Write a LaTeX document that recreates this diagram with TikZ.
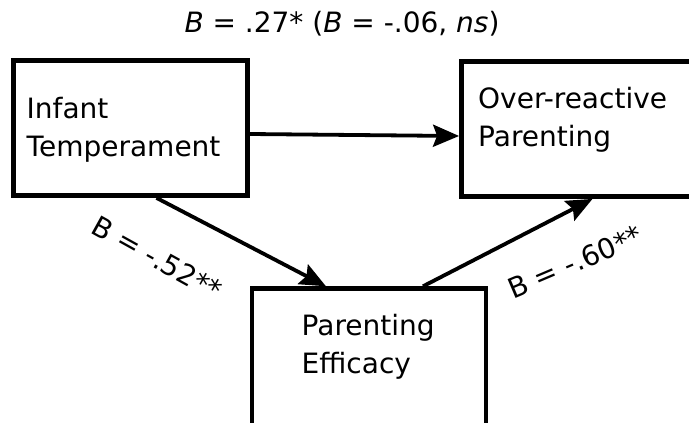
\documentclass[tikz,border=0pt]{standalone}
\usepackage{fontspec}
\setmainfont{DejaVu Sans}
\usetikzlibrary{arrows.meta}

\begin{document}
\begin{tikzpicture}[x=1pt,y=-1pt,
	box/.style={draw,line width=4.8pt,minimum width=234pt,minimum height=135pt,inner sep=0pt},
	boxtext/.style={anchor=base west,align=left,inner sep=0pt,font=\fontsize{28}{38}\selectfont},
	effect/.style={line width=3.8pt,-{Stealth[length=26pt,width=22pt,inset=4pt]}},
	coef/.style={inner sep=0pt,font=\fontsize{28}{32}\selectfont}]
	\useasboundingbox (0,0) rectangle (689,423);
	\clip (0,0) rectangle (689,423);
	\node[box] (inf) at (130.5,128) {};
	\node[box] (ora) at (578.5,129) {};
	\node[box,minimum height=142pt] (eff) at (369,359.7) {};
	\node[boxtext] (inftext) at (26.5,156) {Infant\\Temperament};
	\node[boxtext] (oratext) at (478,146) {Over-reactive\\Parenting};
	\node[boxtext] (efftext) at (301.5,373) {Parenting\\Efficacy};
	\draw[effect] ([yshift=-6pt]inf.east) -- ([yshift=-7pt]ora.west);
	\draw[effect] ([xshift=26pt]inf.south) -- ([xshift=-43pt]eff.north);
	\draw[effect] ([xshift=54pt]eff.north) -- ([xshift=14pt]ora.south);
	\node[coef,anchor=base] (direct) at (342,32) {\textit{B} = .27* (\textit{B} = -.06, \textit{ns})};
	\node[coef,rotate=-29] (apath) at (157,258) {B = -.52**};
	\node[coef,rotate=23] (bpath) at (575,262) {B = -.60**};
\end{tikzpicture}
\end{document}
